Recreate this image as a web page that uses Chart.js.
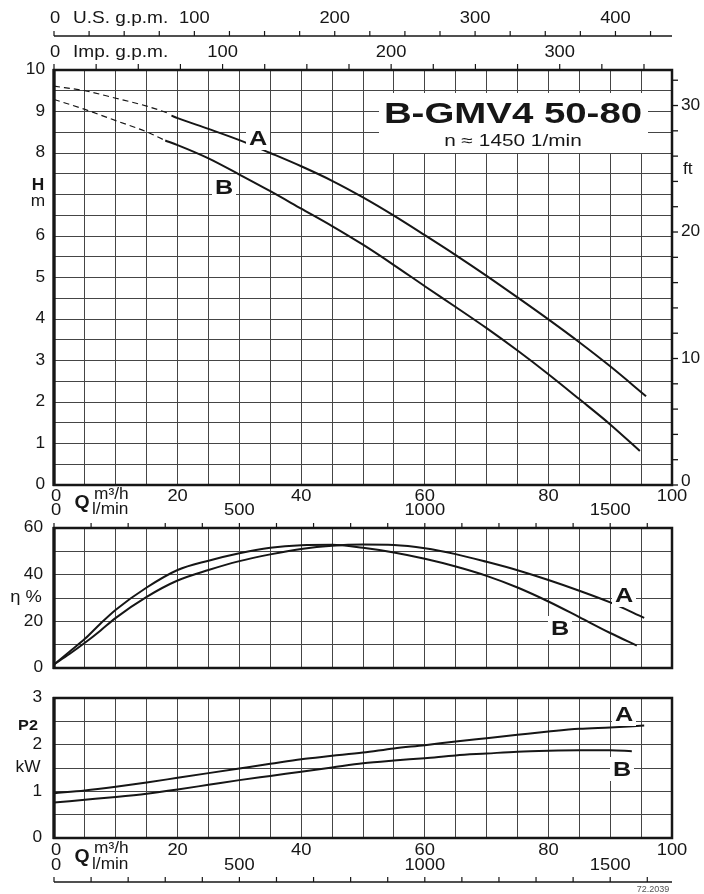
<!DOCTYPE html>
<html>
<head>
<meta charset="utf-8">
<script src="https://cdn.jsdelivr.net/npm/chart.js@4"></script>
<style>
  body { margin: 0; background: #fff; }
  #wrap { position: relative; width: 704px; height: 894px; }
  #wrap canvas { position: absolute; left: 0; top: 0; }
</style>
</head>
<body>
<div id="wrap">
  <canvas id="headChart" width="704" height="894"></canvas>
  <canvas id="effChart" width="704" height="894"></canvas>
  <canvas id="powerChart" width="704" height="894"></canvas>
</div>
<script>
// pump curves B-GMV4 50-80, flow Q in m3/h

// head H (m), dashed start + solid part
const qA_dash = [0, 5, 10, 15, 18.5];
const hA_dash = [9.61, 9.5, 9.32, 9.13, 8.96];
const qA = [19, 20, 25, 30, 35, 40, 45, 50, 55, 60, 65, 70, 75, 80, 85, 90, 95.8];
const hA = [8.9, 8.84, 8.58, 8.31, 8.0, 7.68, 7.33, 6.93, 6.49, 6.02, 5.54, 5.04, 4.52, 3.99, 3.44, 2.86, 2.14];
const qB_dash = [0, 5, 10, 15, 18];
const hB_dash = [9.29, 9.05, 8.78, 8.51, 8.3];
const qB = [18, 20, 25, 30, 35, 40, 45, 50, 55, 60, 65, 70, 75, 80, 85, 90, 94.8];
const hB = [8.3, 8.19, 7.87, 7.48, 7.08, 6.66, 6.24, 5.79, 5.3, 4.79, 4.29, 3.78, 3.24, 2.67, 2.07, 1.46, 0.82];

// efficiency (%)
const qEffA = [0, 2.5, 5, 7.5, 10, 15, 20, 25, 30, 35, 40, 45, 50, 55, 60, 65, 70, 75, 80, 85, 90, 95.5];
const effA = [1.5, 6, 10.8, 16, 21.5, 30.5, 37.5, 42, 45.8, 48.7, 51, 52.4, 52.9, 52.7, 51.3, 48.8, 45.5, 41.9, 37.7, 33.1, 28.1, 21.5];
const qEffB = [0, 2.5, 5, 7.5, 10, 15, 20, 25, 30, 35, 40, 45, 50, 55, 60, 65, 70, 75, 80, 85, 90, 94.3];
const effB = [1.5, 7, 12.5, 19, 25, 34.5, 42, 46, 49.2, 51.5, 52.6, 52.8, 51.5, 49.5, 46.8, 43.5, 39.5, 34.5, 28.5, 21.8, 15, 9.6];

// power P2 (kW)
const qPA = [0, 5, 10, 15, 20, 25, 30, 35, 40, 45, 50, 55, 60, 65, 70, 75, 80, 85, 90, 95.5];
const pA = [0.96, 1.02, 1.1, 1.19, 1.29, 1.39, 1.49, 1.59, 1.69, 1.76, 1.83, 1.92, 1.99, 2.07, 2.14, 2.21, 2.28, 2.34, 2.37, 2.41];
const qPB = [0, 5, 10, 15, 20, 25, 30, 35, 40, 45, 50, 55, 60, 65, 70, 75, 80, 85, 90, 93.5];
const pB = [0.76, 0.82, 0.88, 0.95, 1.04, 1.14, 1.24, 1.33, 1.42, 1.51, 1.6, 1.66, 1.71, 1.77, 1.81, 1.85, 1.87, 1.88, 1.88, 1.86];

// tick labels
const qTicks = [0, 20, 40, 60, 80, 100];
const lminTicks = [0, 500, 1000, 1500];
const usTicks = [0, 100, 200, 300, 400];
const impTicks = [0, 100, 200, 300];
const hTicks = [0, 1, 2, 3, 4, 5, 6, 8, 9, 10];
const ftTicks = [0, 10, 20, 30];
const effTicks = [0, 20, 40, 60];
const powerTicks = [0, 1, 2, 3];

// unit conversions per 1 m3/h (and per 1 m)
const US_GPM = 4.40287;
const IMP_GPM = 3.66615;
const L_MIN = 1000 / 60;
const FT = 3.28084;

const FONT = '"Liberation Sans", Arial, Helvetica, sans-serif';
const INK = '#161616';
const GRID = '#454545';

function pts(xs, ys) {
   return xs.map((x, i) => ({ x: x, y: ys[i] }));
}

function curve(xs, ys, dashed) {
   return {
      data: pts(xs, ys),
      xAxisID: 'x',
      yAxisID: 'y',
      borderColor: INK,
      borderWidth: dashed ? 1.2 : 2,
      borderDash: dashed ? [6, 4] : [],
      pointRadius: 0,
      cubicInterpolationMode: 'monotone',
      fill: false,
   };
}

function txt(ctx, s, x, y, size, o) {
   o = o || {};
   ctx.save();
   ctx.font = (o.bold ? 'bold ' : '') + size + 'px ' + FONT;
   ctx.fillStyle = o.color || INK;
   ctx.textAlign = o.align || 'center';
   ctx.textBaseline = 'middle';
   ctx.translate(x, y);
   ctx.scale(o.sx || 1.08, 1);
   ctx.fillText(s, 0, 0);
   ctx.restore();
}

function seg(ctx, x1, y1, x2, y2, w) {
   ctx.save();
   ctx.strokeStyle = INK;
   ctx.lineWidth = w;
   ctx.beginPath();
   ctx.moveTo(x1, y1);
   ctx.lineTo(x2, y2);
   ctx.stroke();
   ctx.restore();
}

function frame(ctx, a) {
   ctx.save();
   ctx.strokeStyle = INK;
   ctx.lineWidth = 2.5;
   ctx.strokeRect(a.left, a.top, a.right - a.left, a.bottom - a.top);
   ctx.restore();
   seg(ctx, a.left, a.top - 1, a.left, a.bottom + 1, 3.2);
}

function tag(ctx, s, x, y) {
   ctx.save();
   ctx.fillStyle = '#fff';
   ctx.fillRect(x - 12, y - 12, 24, 24);
   ctx.restore();
   txt(ctx, s, x, y + 1, 21, { bold: true, sx: 1.2 });
}

// secondary flow axis, l/min ticks
function lminTickRow(ctx, sc, y1, y2) {
   for (let v = 0; v <= 1600; v += 100) {
      const px = sc.getPixelForValue(v);
      seg(ctx, px, y1, px, y2, 1.2);
   }
}

function qRows(ctx, s, yTop, yBot) {
   qTicks.forEach((v, i) => txt(ctx, String(v), s.x.getPixelForValue(v) + (i === 0 ? 2 : 0), yTop, 17));
   lminTicks.forEach((v, i) => txt(ctx, String(v), s.lmin.getPixelForValue(v) + (i === 0 ? 2 : 0), yBot, 17));
   txt(ctx, 'Q', 82, (yTop + yBot) / 2, 18, { bold: true });
   txt(ctx, 'm³/h', 94, yTop - 1, 16, { align: 'left' });
   txt(ctx, 'l/min', 92, yBot, 16, { align: 'left' });
}

function chartOptions(yMax, yStep, padTop, padBottom, extra) {
   const scales = {
      x: {
         type: 'linear', min: 0, max: 100,
         afterFit: (sc) => { sc.height = 0; },
         ticks: { display: false, stepSize: 5 },
         grid: { color: GRID, lineWidth: 1, drawTicks: false },
         border: { display: false },
      },
      y: {
         type: 'linear', min: 0, max: yMax,
         afterFit: (sc) => { sc.width = 0; },
         ticks: { display: false, stepSize: yStep },
         grid: { color: GRID, lineWidth: 1, drawTicks: false },
         border: { display: false },
      },
      lmin: { type: 'linear', axis: 'x', position: 'bottom', display: false, min: 0, max: 100 * L_MIN },
   };
   Object.assign(scales, extra || {});
   return {
      responsive: false,
      animation: false,
      events: [],
      layout: { padding: { left: 54, right: 32, top: padTop, bottom: padBottom } },
      plugins: { legend: { display: false }, tooltip: { enabled: false } },
      scales: scales,
   };
}

// H chart decorations
const headDecor = {
   id: 'headDecor',
   afterDatasetsDraw(chart) {
      const { ctx, chartArea: a, scales: s } = chart;
      frame(ctx, a);

      hTicks.forEach((v) => txt(ctx, String(v), 45, s.y.getPixelForValue(v), 16, { align: 'right' }));
      txt(ctx, 'H', 38, 186, 16, { bold: true });
      txt(ctx, 'm', 38, 202, 16);

      // feet on the right
      for (let v = 0; v <= 32; v += 2) {
         const py = s.ft.getPixelForValue(v);
         seg(ctx, a.right, py, a.right + 6, py, 1.3);
      }
      ftTicks.forEach((v) => txt(ctx, String(v), 681, s.ft.getPixelForValue(v) - (v === 0 ? 3 : 0), 16, { align: 'left' }));
      txt(ctx, 'ft', 683, 170, 16, { align: 'left' });

      // U.S. g.p.m.
      seg(ctx, a.left, 36, a.right, 36, 1.6);
      for (let v = 0; v <= 425; v += 25) {
         const px = s.us.getPixelForValue(v);
         seg(ctx, px, 31, px, 36, 1.2);
      }
      usTicks.forEach((v, i) => txt(ctx, String(v), s.us.getPixelForValue(v) + (i === 0 ? 1 : 0), 18, 17));
      txt(ctx, 'U.S. g.p.m.', 73, 18, 17, { align: 'left', sx: 1.12 });

      // Imp. g.p.m.
      for (let v = 0; v <= 350; v += 25) {
         const px = s.imp.getPixelForValue(v);
         seg(ctx, px, 64, px, 70, 1.2);
      }
      impTicks.forEach((v, i) => txt(ctx, String(v), s.imp.getPixelForValue(v) + (i === 0 ? 1 : 0), 52, 17));
      txt(ctx, 'Imp. g.p.m.', 73, 52, 17, { align: 'left', sx: 1.12 });

      // flow row under the chart
      qTicks.forEach((v, i) => txt(ctx, String(v), s.x.getPixelForValue(v) + (i === 0 ? 2 : 0), 496, 17));
      txt(ctx, 'Q', 82, 503, 18, { bold: true });
      txt(ctx, 'm³/h', 94, 495, 16, { align: 'left' });

      // title box
      ctx.save();
      ctx.fillStyle = '#fff';
      ctx.fillRect(379, 93, 269, 60);
      ctx.restore();
      txt(ctx, 'B-GMV4 50-80', 513, 115, 30, { bold: true, sx: 1.28 });
      txt(ctx, 'n ≈ 1450 1/min', 513, 142, 16, { sx: 1.3 });

      tag(ctx, 'A', 258, 138);
      tag(ctx, 'B', 224, 187);
   },
};

// efficiency chart decorations
const effDecor = {
   id: 'effDecor',
   afterDatasetsDraw(chart) {
      const { ctx, chartArea: a, scales: s } = chart;
      frame(ctx, a);
      lminTickRow(ctx, s.lmin, 523, 528);
      lminTicks.forEach((v, i) => txt(ctx, String(v), s.lmin.getPixelForValue(v) + (i === 0 ? 2 : 0), 510, 17));
      txt(ctx, 'l/min', 92, 510, 16, { align: 'left' });

      effTicks.forEach((v) => txt(ctx, String(v), 43, s.y.getPixelForValue(v), 16, { align: 'right' }));
      txt(ctx, 'η %', 26, 597, 17);

      tag(ctx, 'A', 624, 595);
      tag(ctx, 'B', 560, 628);
   },
};

// power chart decorations
const powerDecor = {
   id: 'powerDecor',
   afterDatasetsDraw(chart) {
      const { ctx, chartArea: a, scales: s } = chart;
      frame(ctx, a);
      powerTicks.forEach((v) => txt(ctx, String(v), 42, s.y.getPixelForValue(v), 16, { align: 'right' }));
      txt(ctx, 'P2', 28, 726, 15, { bold: true });
      txt(ctx, 'kW', 28, 768, 16);

      qRows(ctx, s, 850, 865);
      seg(ctx, a.left, 882, a.right, 882, 1.6);
      lminTickRow(ctx, s.lmin, 877, 882);
      txt(ctx, '72.2039', 653, 890, 9, { color: '#555', sx: 1 });

      tag(ctx, 'A', 624, 714);
      tag(ctx, 'B', 622, 769);
   },
};

new Chart('headChart', {
   type: 'line',
   data: {
      datasets: [
         curve(qA_dash, hA_dash, true),
         curve(qA, hA),
         curve(qB_dash, hB_dash, true),
         curve(qB, hB),
      ],
   },
   options: chartOptions(10, 0.5, 70, 409, {
      us: { type: 'linear', axis: 'x', position: 'top', display: false, min: 0, max: 100 * US_GPM },
      imp: { type: 'linear', axis: 'x', position: 'top', display: false, min: 0, max: 100 * IMP_GPM },
      ft: { type: 'linear', axis: 'y', position: 'right', display: false, min: 0, max: 10 * FT },
   }),
   plugins: [headDecor],
});

new Chart('effChart', {
   type: 'line',
   data: {
      datasets: [curve(qEffA, effA), curve(qEffB, effB)],
   },
   options: chartOptions(60, 10, 528, 226),
   plugins: [effDecor],
});

new Chart('powerChart', {
   type: 'line',
   data: {
      datasets: [curve(qPA, pA), curve(qPB, pB)],
   },
   options: chartOptions(3, 0.5, 698, 56),
   plugins: [powerDecor],
});
</script>
</body>
</html>
